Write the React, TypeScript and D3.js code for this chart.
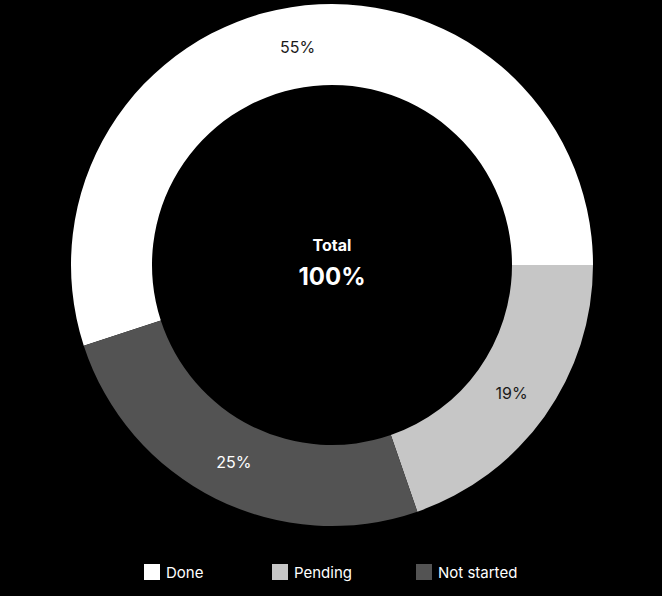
import React, { useEffect, useRef } from "react"
import * as d3 from "d3"

// slices, in legend order
const categories = ["Done", "Pending", "Not started"]
const values = [55, 19.7, 25.3]
const colors = ["#ffffff", "#c6c6c6", "#535353"]
const labelColors = ["#1a1a1a", "#1a1a1a", "#ffffff"]
const centerLines = ["Total", "100%"]

const width = 662
const height = 596

export default function App() {
  const ref = useRef<SVGSVGElement>(null)

  useEffect(() => {
    const svg = d3.select(ref.current)
    svg.selectAll("*").remove()

    const cx = 332
    const cy = 265
    const outer = 261
    const inner = 180

    const total = d3.sum(values)
    const data = categories.map((c, i) => ({ name: c, value: values[i], i }))

    // first slice ends at 3 o'clock
    const start = Math.PI / 2 - (2 * Math.PI * values[0]) / total
    const pie = d3
      .pie<any>()
      .sort(null)
      .value(d => d.value)
      .startAngle(start)
      .endAngle(start + 2 * Math.PI)

    const arc = d3.arc<any>().innerRadius(inner).outerRadius(outer)
    const arcs = pie(data)

    const g = svg.append("g").attr("transform", `translate(${cx},${cy})`)

    g.selectAll("path")
      .data(arcs)
      .join("path")
      .attr("fill", d => colors[d.data.i])
      .attr("d", arc)

    g.selectAll("text.pct")
      .data(arcs)
      .join("text")
      .attr("class", "pct")
      .attr("transform", d => `translate(${arc.centroid(d)})`)
      .attr("text-anchor", "middle")
      .attr("dominant-baseline", "central")
      .attr("font-family", "Inter, sans-serif")
      .attr("font-size", 16)
      .attr("fill", d => labelColors[d.data.i])
      .text(d => `${Math.floor((d.data.value / total) * 100)}%`)

    // center text
    g.append("text")
      .attr("text-anchor", "middle")
      .attr("y", -14)
      .attr("font-family", "Inter, sans-serif")
      .attr("font-size", 16)
      .attr("font-weight", 700)
      .attr("fill", "#ffffff")
      .text(centerLines[0])
    g.append("text")
      .attr("text-anchor", "middle")
      .attr("y", 20)
      .attr("font-family", "Inter, sans-serif")
      .attr("font-size", 24)
      .attr("font-weight", 700)
      .attr("fill", "#ffffff")
      .text(centerLines[1])

    // legend
    const legendX = [144, 272, 416]
    const lg = svg.append("g").attr("transform", "translate(0,564)")
    const items = lg
      .selectAll("g")
      .data(data)
      .join("g")
      .attr("transform", d => `translate(${legendX[d.i]},0)`)
    items
      .append("rect")
      .attr("width", 16)
      .attr("height", 16)
      .attr("fill", d => colors[d.i])
    items
      .append("text")
      .attr("x", 22)
      .attr("y", 8)
      .attr("dominant-baseline", "central")
      .attr("font-family", "Inter, sans-serif")
      .attr("font-size", 15)
      .attr("fill", "#ffffff")
      .text(d => d.name)
  }, [])

  return (
    <div style={{ position: "fixed", inset: 0, background: "#000" }}>
      <svg ref={ref} width={width} height={height} style={{ display: "block" }} />
    </div>
  )
}
